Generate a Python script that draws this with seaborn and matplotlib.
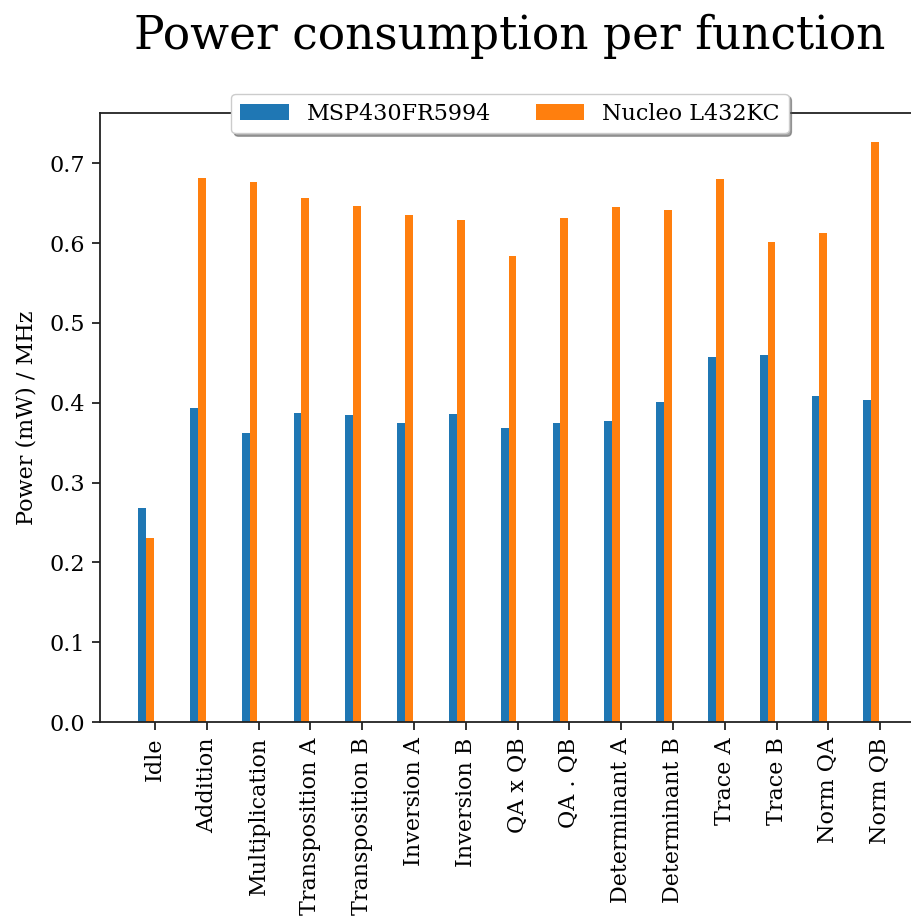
import numpy as np
import pandas as pd
import matplotlib
matplotlib.use("Agg")
import matplotlib.pyplot as plt
import seaborn as sns

functions = ["Idle", "Addition", "Multiplication", "Transposition A", "Transposition B",
             "Inversion A", "Inversion B", "QA x QB", "QA . QB", "Determinant A",
             "Determinant B", "Trace A", "Trace B", "Norm QA", "Norm QB"]
msp430 = [0.268, 0.393, 0.362, 0.387, 0.385, 0.374, 0.386, 0.368, 0.374, 0.377,
          0.401, 0.457, 0.460, 0.409, 0.403]
nucleo = [0.230, 0.681, 0.676, 0.657, 0.647, 0.635, 0.629, 0.584, 0.632, 0.645,
          0.642, 0.680, 0.601, 0.613, 0.727]
series_names = ["MSP430FR5994", "Nucleo L432KC"]

df = pd.DataFrame({
    "Function": functions * 2,
    "Power": msp430 + nucleo,
    "Device": [series_names[0]] * len(functions) + [series_names[1]] * len(functions),
})

sns.set_style("white")
plt.rcParams["font.family"] = ["DejaVu Serif"]
plt.rcParams["text.color"] = "black"
plt.rcParams["axes.labelcolor"] = "black"
plt.rcParams["xtick.color"] = "black"
plt.rcParams["ytick.color"] = "black"

W, H = 911, 921
fig = plt.figure(figsize=(W / 100, H / 100), dpi=100)
ax_left, ax_right, ax_top, ax_bot = 100, 920, 113, 722
ax = fig.add_axes([ax_left / W, 1 - ax_bot / H, (ax_right - ax_left) / W, (ax_bot - ax_top) / H])

sns.barplot(data=df, x="Function", y="Power", hue="Device", order=functions,
            hue_order=series_names, palette=["#1f77b4", "#ff7f0e"],
            width=0.3, dodge=True, ax=ax, legend=True, saturation=1.0,
            edgecolor="none", linewidth=0)

n = len(functions)
offset = 0.175
fs = 16
ax.set_xticks(np.arange(n) + offset)
ax.set_xticklabels(functions, rotation=90, fontsize=fs)
step = 51.8
ax.set_xlim(offset - (155 - ax_left) / step, offset + (ax_right - 155) / step)
ax.set_ylim(0, 0.763)
yt = np.arange(0, 0.71, 0.1)
ax.set_yticks(yt)
ax.set_yticklabels([f"{v:.1f}" for v in yt], fontsize=fs)
ax.tick_params(axis="both", which="major", direction="out", length=6, width=1.3,
               bottom=True, left=True, color="#222222", pad=5)
ax.set_xlabel("")
ax.set_ylabel("Power (mW) / MHz", fontsize=fs, labelpad=8)
for s in ax.spines.values():
    s.set_color("#222222")
    s.set_linewidth(1.3)

ax.set_title("Power consumption per function", fontsize=32.8, pad=46)

leg = ax.legend(loc="upper center", bbox_to_anchor=(0.5, 1.05), ncol=2,
                shadow=True, fancybox=True, fontsize=fs, frameon=True,
                handlelength=2.2, columnspacing=2.0)
leg.get_frame().set_facecolor("white")
leg.get_frame().set_edgecolor("#cccccc")

fig.savefig("out.png", dpi=100)
